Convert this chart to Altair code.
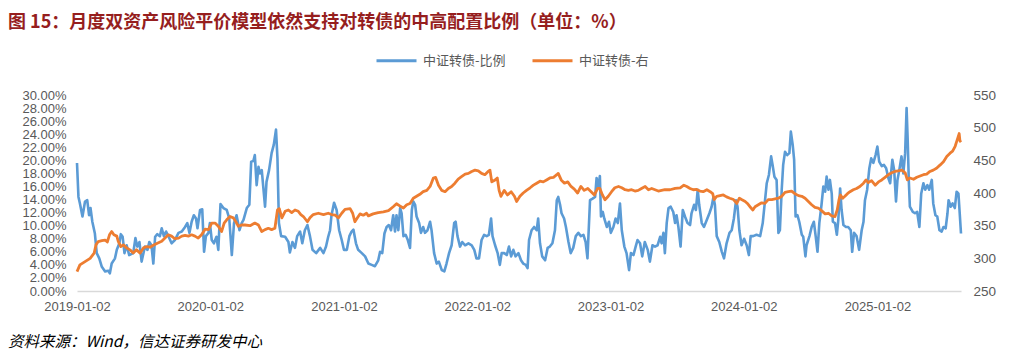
import altair as alt
import pandas as pd

START = "2019-01-02"
TITLE = "图 15：月度双资产风险平价模型依然支持对转债的中高配置比例（单位：%）"
SOURCE = "资料来源：Wind，信达证券研发中心"
BLUE_NAME = "中证转债-比例"
ORANGE_NAME = "中证转债-右"
YEARS = [2019, 2020, 2021, 2022, 2023, 2024, 2025]
LEFT_TICKS = list(range(0, 31, 2))
RIGHT_TICKS = [250, 300, 350, 400, 450, 500, 550]

# (days since 2019-01-02, allocation %)
blue_points = [
    (0, 19.6), (4, 14.4), (8, 13.4), (15, 11.4), (22, 13.7), (28, 13.9), (33, 11.6), (37, 12.7), (42, 10.6), (49, 8.8),
    (54, 5.8), (61, 5.0), (68, 3.7), (77, 3.0), (86, 3.1), (90, 2.7), (95, 4.2), (104, 5.0), (109, 6.3), (116, 7.3),
    (120, 8.7), (125, 8.3), (130, 5.8), (136, 7.0), (143, 5.5), (154, 5.8), (160, 8.1), (165, 6.8), (171, 7.5), (177, 4.5),
    (182, 5.8), (186, 6.8), (193, 6.3), (198, 7.5), (204, 7.0), (209, 4.2), (214, 8.3), (220, 8.7), (227, 8.4), (232, 9.6),
    (238, 8.4), (244, 9.1), (251, 8.3), (259, 7.3), (268, 7.8), (278, 8.9), (287, 9.1), (296, 9.8), (302, 10.4), (308, 8.9),
    (314, 10.6), (320, 11.6), (326, 11.1), (330, 9.6), (337, 12.4), (343, 12.5), (348, 6.0), (353, 8.4), (360, 8.9), (364, 10.4),
    (369, 7.8), (375, 7.3), (382, 8.3), (387, 6.3), (393, 13.3), (401, 12.7), (410, 12.4), (417, 11.1), (424, 5.5), (430, 10.4),
    (437, 11.6), (445, 9.3), (451, 10.4), (456, 10.9), (465, 12.7), (472, 13.2), (477, 19.8), (483, 19.9), (487, 20.8), (492, 16.2),
    (497, 19.0), (501, 18.0), (506, 18.5), (510, 16.0), (515, 12.9), (519, 16.7), (526, 18.5), (533, 21.1), (539, 22.4), (545, 24.7),
    (549, 20.3), (553, 10.4), (559, 8.4), (570, 8.3), (579, 7.5), (583, 5.9), (590, 7.5), (597, 6.6), (603, 8.4), (611, 9.1),
    (617, 7.3), (624, 9.3), (631, 10.1), (638, 8.4), (645, 6.3), (655, 5.8), (666, 6.6), (675, 5.8), (682, 6.8), (688, 8.3),
    (693, 9.3), (697, 11.6), (704, 13.5), (711, 12.4), (718, 9.3), (725, 7.8), (731, 6.3), (739, 6.3), (746, 8.4), (752, 9.1),
    (757, 9.4), (764, 7.3), (770, 6.3), (780, 5.8), (789, 5.3), (798, 4.2),
    (807, 4.0), (816, 3.8), (825, 4.7), (830, 6.0), (836, 5.8), (842, 8.8), (848, 9.8), (854, 10.1), (860, 9.3), (866, 11.6),
    (871, 9.1), (875, 11.6), (880, 9.3), (885, 12.7), (889, 11.9), (894, 8.4), (900, 8.6), (906, 7.8), (912, 6.6), (917, 12.4),
    (921, 13.7), (926, 13.2), (930, 11.4), (937, 10.4), (942, 8.9), (948, 9.8), (953, 8.9), (960, 9.3), (967, 10.6), (971, 9.3),
    (978, 5.8), (985, 4.2), (991, 4.5), (999, 3.2), (1006, 3.0), (1012, 4.2), (1019, 5.8), (1026, 7.0), (1033, 10.4), (1037, 10.6),
    (1042, 8.4), (1049, 6.8), (1055, 7.5), (1063, 7.0), (1072, 7.3), (1081, 7.0), (1088, 6.3), (1094, 5.0), (1101, 5.0), (1108, 7.8),
    (1115, 8.6), (1122, 8.4), (1128, 8.6), (1134, 11.1), (1138, 8.4), (1145, 7.0), (1152, 5.8), (1158, 4.0), (1163, 5.8), (1170, 5.8),
    (1177, 5.5), (1183, 6.8), (1189, 5.3), (1195, 6.3), (1201, 5.3), (1209, 5.8), (1216, 4.7), (1222, 4.2), (1229, 4.0), (1234, 3.5),
    (1238, 7.8), (1245, 9.3), (1252, 9.8), (1259, 9.3), (1263, 11.1), (1268, 7.3), (1274, 5.3), (1282, 4.7), (1289, 6.6), (1295, 6.8),
    (1302, 7.3), (1309, 9.3), (1314, 13.9), (1318, 14.4), (1323, 13.2), (1327, 11.9), (1334, 11.1), (1339, 9.8), (1346, 7.5), (1352, 5.8),
    (1359, 6.6), (1366, 8.4), (1373, 8.9), (1380, 8.4), (1387, 8.6), (1393, 7.5), (1398, 5.0), (1405, 13.9), (1411, 14.1), (1419, 14.4),
    (1423, 17.3), (1428, 16.0), (1432, 17.6), (1435, 11.4), (1440, 12.1), (1444, 11.1), (1451, 9.8), (1457, 10.6), (1462, 8.9), (1469, 9.8),
    (1475, 11.1), (1481, 10.4), (1487, 13.4), (1492, 9.3), (1499, 6.8), (1505, 5.8), (1512, 3.2), (1517, 5.8), (1524, 5.5), (1530, 6.8),
    (1535, 7.8), (1542, 7.3), (1548, 5.3), (1555, 7.5), (1563, 6.3), (1569, 4.5), (1576, 7.0), (1583, 6.8), (1590, 7.0), (1597, 8.3),
    (1601, 7.3), (1606, 8.9), (1610, 5.8), (1615, 10.4), (1620, 12.7), (1626, 12.9), (1633, 12.1), (1638, 10.4), (1642, 11.6), (1647, 9.8),
    (1653, 6.8), (1659, 12.4), (1665, 11.4), (1672, 10.4), (1679, 10.1), (1683, 11.9), (1690, 13.2), (1695, 12.4), (1700, 15.5), (1704, 13.2),
    (1711, 10.4), (1717, 9.8), (1725, 10.9), (1732, 11.9), (1738, 12.9), (1743, 14.4), (1747, 13.2), (1752, 8.4), (1759, 7.5), (1766, 6.0),
    (1772, 5.0), (1779, 7.3), (1787, 8.9), (1793, 9.3), (1799, 11.1), (1805, 13.9), (1809, 12.9), (1814, 9.3), (1820, 7.0), (1827, 8.0),
    (1834, 7.0), (1840, 5.5), (1845, 8.4), (1852, 8.4), (1861, 8.6), (1871, 8.4), (1878, 10.4), (1884, 13.7), (1889, 16.5), (1895, 17.8),
    (1901, 20.6), (1905, 19.3), (1910, 17.5), (1916, 17.0), (1921, 8.9), (1925, 9.3), (1930, 15.5), (1934, 19.3), (1939, 21.3), (1945, 20.8),
    (1951, 21.1), (1955, 24.4), (1960, 22.4), (1964, 20.1), (1968, 11.4), (1973, 11.6), (1978, 10.6), (1985, 8.6), (1989, 8.3), (1995, 5.3),
    (1998, 7.0), (2006, 8.4), (2012, 9.8), (2018, 10.6), (2023, 8.4), (2028, 6.0), (2033, 10.4), (2039, 13.2), (2044, 16.0), (2049, 15.2),
    (2053, 17.5), (2058, 15.5), (2062, 17.0), (2067, 14.9), (2070, 10.6), (2076, 10.4), (2081, 8.6), (2085, 10.9), (2090, 15.7), (2094, 12.4),
    (2099, 10.1), (2106, 9.8), (2112, 9.8), (2119, 9.3), (2123, 6.0), (2128, 8.9), (2135, 8.4), (2142, 6.3), (2149, 9.3), (2154, 10.6),
    (2158, 13.9), (2164, 15.5), (2170, 18.8), (2175, 20.3), (2181, 19.6), (2187, 20.8), (2192, 22.1), (2197, 19.8), (2204, 19.1), (2210, 19.3),
    (2216, 18.8), (2222, 17.3), (2227, 16.5), (2233, 20.1), (2238, 18.5), (2243, 13.7), (2247, 17.0), (2252, 18.5), (2258, 20.6), (2263, 18.0),
    (2268, 21.1), (2272, 28.0), (2275, 23.1), (2278, 17.0), (2281, 12.9), (2289, 12.1), (2295, 11.9), (2301, 12.1), (2307, 9.8), (2312, 14.9),
    (2318, 16.5), (2323, 15.5), (2329, 16.2), (2334, 15.5), (2341, 17.0), (2345, 13.4), (2351, 11.6), (2356, 11.4), (2362, 9.3), (2368, 9.1),
    (2373, 9.8), (2379, 9.6), (2384, 11.9), (2387, 13.9), (2393, 12.9), (2398, 13.4), (2404, 12.7), (2409, 15.2), (2414, 14.9), (2416, 13.2),
    (2421, 8.8),
]

# (days since 2019-01-02, index level, right axis)
orange_points = [
    (0, 279.6), (8, 290), (22, 295), (36, 300), (47, 308), (52, 320.6), (58, 325.7), (68, 327), (77, 328), (83, 325),
    (89, 336), (95, 341), (101, 336), (109, 334), (113, 326), (120, 318), (127, 320.6), (136, 316), (145, 313), (154, 308),
    (163, 313), (173, 308), (182, 316), (191, 318), (200, 317), (209, 320), (220, 323), (232, 326), (241, 331), (250, 336),
    (259, 334), (268, 330), (278, 331), (287, 334), (296, 335), (305, 334), (314, 336), (323, 334), (332, 331), (341, 336),
    (351, 344.7), (360, 344), (369, 354), (378, 354), (387, 349), (396, 341), (403, 354), (410, 359), (419, 364), (428, 362),
    (435, 356), (442, 349), (451, 351), (460, 351), (474, 350), (487, 354), (497, 351), (506, 341), (515, 344), (524, 346),
    (533, 344), (542, 346), (549, 374), (554, 376), (561, 362), (570, 372), (579, 374), (588, 370), (597, 374), (606, 372),
    (613, 367), (620, 364), (631, 356), (638, 362), (647, 367), (661, 369), (675, 367), (688, 369), (697, 367), (707, 366),
    (716, 362), (725, 369), (734, 375), (748, 376), (755, 369), (761, 356), (768, 362), (775, 368), (784, 366), (793, 369),
    (798, 365), (811, 368), (825, 370), (839, 371), (853, 373), (866, 379), (875, 383.5), (885, 380), (894, 377), (903, 382),
    (912, 384), (921, 392), (930, 395), (939, 398), (948, 402), (958, 404), (967, 410), (976, 423), (982, 424), (990, 412),
    (999, 404), (1008, 402), (1017, 407), (1026, 410), (1035, 415), (1044, 421.4), (1053, 425), (1063, 429), (1072, 430), (1081, 433),
    (1090, 435), (1099, 434), (1108, 430), (1117, 428), (1126, 433), (1131, 435), (1136, 417), (1145, 420), (1151, 423), (1156, 404),
    (1161, 394.8), (1170, 404), (1179, 397), (1189, 402), (1198, 395), (1204, 387), (1213, 395), (1222, 400), (1231, 404), (1241, 408),
    (1250, 412), (1259, 415), (1268, 418), (1277, 417), (1286, 420), (1295, 423), (1305, 424), (1314, 428), (1318, 430), (1326, 420),
    (1335, 415), (1344, 417), (1353, 410), (1362, 406), (1371, 400), (1380, 410), (1389, 404), (1399, 407), (1408, 402), (1417, 397),
    (1426, 407), (1432, 407), (1439, 397), (1446, 389.7), (1455, 395), (1464, 402), (1473, 408), (1483, 410), (1492, 408), (1501, 405),
    (1510, 404), (1519, 405), (1528, 403), (1537, 404), (1546, 407), (1556, 410), (1565, 405), (1574, 407), (1583, 405), (1592, 403),
    (1601, 404), (1610, 405), (1624, 405), (1638, 407), (1652, 408), (1662, 412), (1670, 410), (1679, 407), (1688, 405), (1697, 405.5),
    (1706, 403), (1715, 402), (1725, 405), (1734, 402), (1741, 399), (1745, 389.7), (1752, 395), (1761, 396), (1770, 397), (1779, 394),
    (1788, 392), (1798, 390), (1807, 384), (1814, 392), (1820, 390), (1830, 387), (1836, 384), (1843, 379), (1851, 374), (1857, 379),
    (1866, 382), (1875, 385), (1884, 384), (1893, 390), (1903, 390), (1912, 391), (1921, 392), (1930, 395), (1939, 401), (1948, 402),
    (1957, 403), (1966, 399), (1976, 396), (1985, 395), (1994, 392), (2003, 387), (2012, 382), (2021, 378), (2030, 377), (2039, 373),
    (2049, 368), (2058, 369), (2067, 365), (2076, 364), (2082, 374), (2087, 390), (2091, 397), (2097, 392), (2103, 395), (2110, 399),
    (2117, 402), (2126, 405), (2135, 407), (2144, 410), (2154, 415), (2161, 420), (2167, 416), (2176, 419), (2186, 412), (2195, 417),
    (2204, 420), (2213, 424), (2222, 428), (2231, 431), (2240, 433), (2249, 434), (2259, 435), (2268, 431), (2274, 420), (2281, 423),
    (2291, 421), (2300, 424), (2309, 426), (2318, 428), (2327, 429), (2336, 433), (2345, 435), (2354, 438), (2364, 443), (2373, 448),
    (2382, 456), (2391, 461), (2398, 464), (2405, 471.5), (2411, 482), (2416, 491), (2418, 480), (2421, 478),
]


def make_df(points, name):
    days = [p[0] for p in points]
    vals = [p[1] for p in points]
    dates = pd.Timestamp(START) + pd.to_timedelta(days, unit="D")
    return pd.DataFrame({"date": dates, "value": vals, "series": name})


blue_df = make_df(blue_points, BLUE_NAME)
orange_df = make_df(orange_points, ORANGE_NAME)

GRAY = "#595959"
NUM_FONT = "Liberation Sans"
CJK_FONT = "Noto Sans CJK SC"

x_enc = alt.X(
    "date:T",
    scale=alt.Scale(domain=[alt.DateTime(year=2019, month=1, date=2),
                            alt.DateTime(year=2025, month=8, date=19)]),
    axis=alt.Axis(
        values=[alt.DateTime(year=y, month=1, date=2) for y in YEARS],
        format="%Y-%m-%d", title=None, grid=False, ticks=False,
        domainColor="#d9d9d9", domainWidth=1.5,
        labelFont=NUM_FONT, labelFontSize=13, labelColor=GRAY, labelPadding=9,
        labelOverlap=False, labelFlush=False,
    ),
)

color_enc = alt.Color(
    "series:N",
    scale=alt.Scale(domain=[BLUE_NAME, ORANGE_NAME], range=["#5B9BD5", "#ED7D31"]),
    legend=alt.Legend(
        title=None, orient="none", legendX=298, legendY=-56, direction="horizontal",
        symbolType="stroke", symbolSize=1600, symbolStrokeWidth=3,
        labelFont=CJK_FONT, labelFontSize=13, labelColor=GRAY, labelOffset=5,
        columnPadding=20, padding=0,
    ),
)

blue = alt.Chart(blue_df).mark_line(strokeWidth=2.6, strokeJoin="round").encode(
    x=x_enc,
    y=alt.Y(
        "value:Q",
        scale=alt.Scale(domain=[0, 30], nice=False, zero=False),
        axis=alt.Axis(
            orient="left", values=LEFT_TICKS, title=None, grid=False, ticks=False, domain=False,
            labelExpr="format(datum.value, '.2f') + '%'",
            labelFont=NUM_FONT, labelFontSize=13, labelColor=GRAY, labelPadding=11,
            labelOverlap=False, labelFlush=False, labelBound=False,
        ),
    ),
    color=color_enc,
)

orange = alt.Chart(orange_df).mark_line(strokeWidth=2.8, strokeJoin="round").encode(
    x=x_enc,
    y=alt.Y(
        "value:Q",
        scale=alt.Scale(domain=[250, 550], nice=False, zero=False),
        axis=alt.Axis(
            orient="right", values=RIGHT_TICKS, title=None, grid=False, ticks=False, domain=False,
            format="d", labelFont=NUM_FONT, labelFontSize=13.5, labelColor=GRAY, labelPadding=12,
            labelOverlap=False, labelFlush=False, labelBound=False,
        ),
    ),
    color=color_enc,
)

title = alt.Chart(pd.DataFrame({"t": [TITLE]})).mark_text(
    align="left", baseline="middle", font=CJK_FONT, fontSize=18, fontWeight="bold", color="#961E1E"
).encode(text="t:N", x=alt.value(-69), y=alt.value(-72))

source = alt.Chart(pd.DataFrame({"t": [SOURCE]})).mark_text(
    align="left", baseline="middle", font=CJK_FONT, fontSize=15.5, fontStyle="italic", color="#000000"
).encode(text="t:N", x=alt.value(-69), y=alt.value(247))

chart = (
    alt.layer(blue, orange, title, source)
    .resolve_scale(y="independent")
    .properties(
        width=884, height=196,
        autosize=alt.AutoSizeParams(type="none"),
        padding={"left": 69, "top": 87, "right": 40, "bottom": 62},
        background="white",
    )
    .configure_view(stroke=None)
)

chart.save("out.html", embed_options={"renderer": "svg", "actions": False})
